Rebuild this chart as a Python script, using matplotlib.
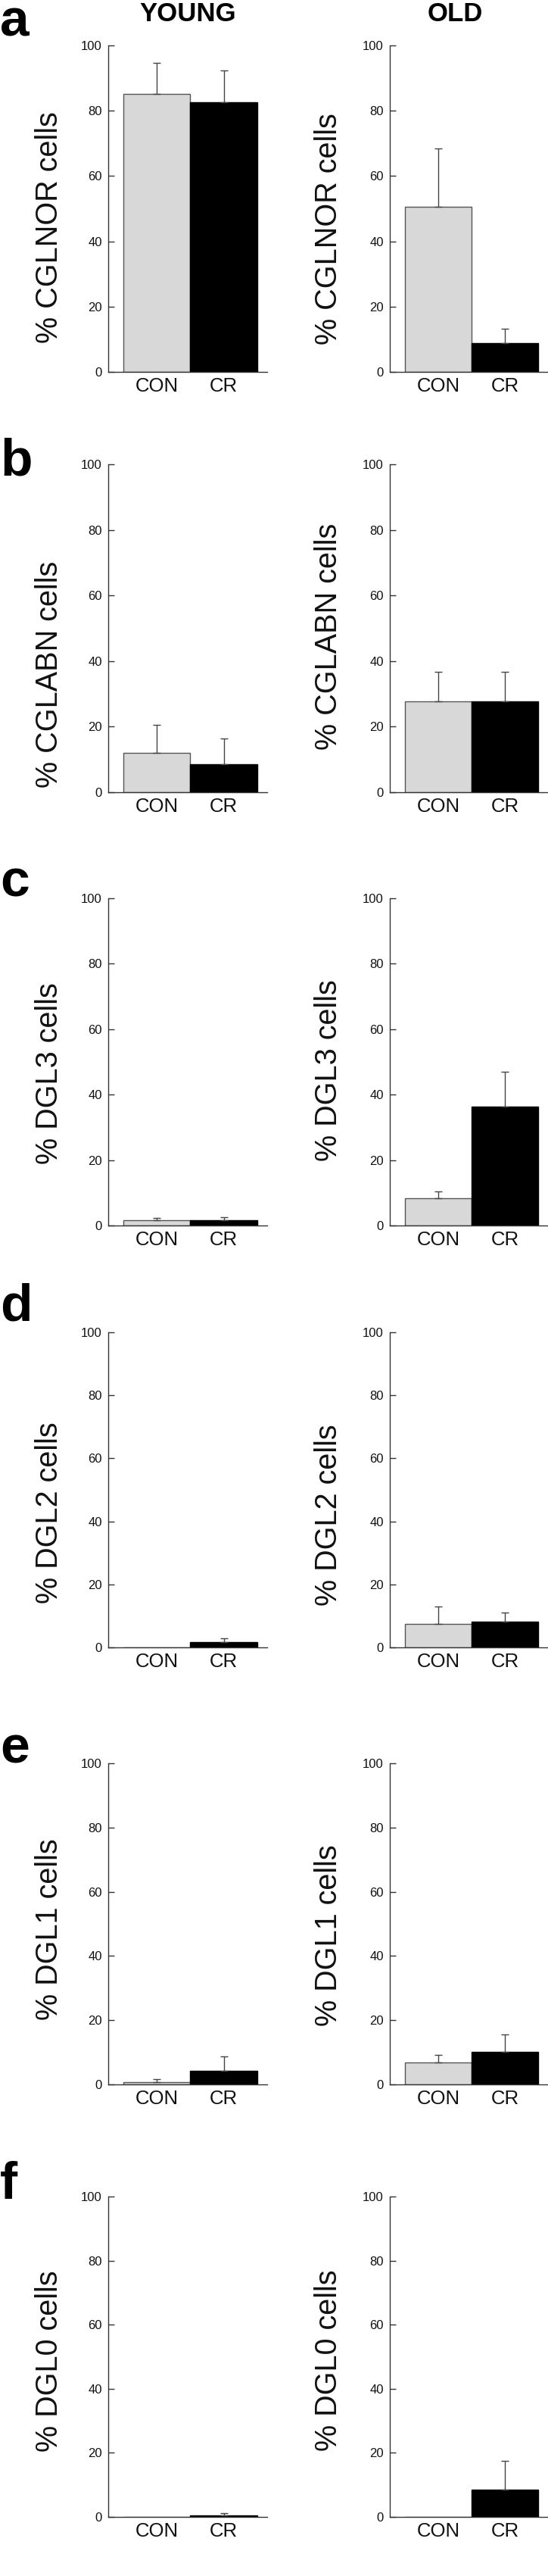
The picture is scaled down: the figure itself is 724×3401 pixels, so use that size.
import matplotlib
matplotlib.use("Agg")
import matplotlib.pyplot as plt

plt.rcParams['font.family'] = ['Liberation Sans', 'DejaVu Sans']

# data (% of cells)
cell_types = ["CGLNOR", "CGLABN", "DGL3", "DGL2", "DGL1", "DGL0"]
panel_letters = ["a", "b", "c", "d", "e", "f"]
groups = ["CON", "CR"]

young_con = [85.1, 12.1, 1.6, 0.0, 0.7, 0.0]
young_con_err = [9.5, 8.4, 0.8, 0.0, 1.0, 0.0]
young_cr = [82.7, 8.6, 1.6, 1.6, 4.3, 0.5]
young_cr_err = [9.6, 7.9, 1.0, 1.4, 4.4, 0.6]

old_con = [50.5, 27.6, 8.4, 7.5, 6.8, 0.0]
old_con_err = [18.0, 9.2, 2.1, 5.5, 2.5, 0.0]
old_cr = [8.8, 27.6, 36.4, 8.2, 10.2, 8.6]
old_cr_err = [4.4, 9.2, 10.6, 2.9, 5.4, 8.9]

# layout in pixels
W, H = 724, 3401
rows_y = [(60, 491), (613, 1046), (1186, 1618), (1759, 2175), (2328, 2752), (2900, 3323)]
cols_x = [(143, 353), (515, 723)]
xlims = [(-0.726, 1.647), (-0.727, 1.636)]
label_x = [65, 434]
label_yfrac = [(0.443, 0.438), (0.36, 0.476), (0.465, 0.475),
               (0.428, 0.42), (0.483, 0.465), (0.487, 0.488)]
letter_base = [47, 627, 1183, 1743, 2327, 2903]

fig = plt.figure(figsize=(W / 100, H / 100), dpi=100)

con_color = "#d8d8d8"
cr_color = "#000000"
line_color = "#333333"

for i, ctype in enumerate(cell_types):
    ytop, ybot = rows_y[i]
    for j in range(2):
        x0, x1 = cols_x[j]
        ax = fig.add_axes([x0 / W, 1 - ybot / H, (x1 - x0) / W, (ybot - ytop) / H])
        if j == 0:
            means = [young_con[i], young_cr[i]]
            errs = [young_con_err[i], young_cr_err[i]]
        else:
            means = [old_con[i], old_cr[i]]
            errs = [old_con_err[i], old_cr_err[i]]

        ax.bar([0, 1], means, width=1.0, color=[con_color, cr_color],
               edgecolor=["#555555", "#000000"], linewidth=1.0, zorder=2)
        for k in range(2):
            if errs[k] > 0:
                ax.errorbar(k, means[k], yerr=[[0], [errs[k]]], fmt="none",
                            ecolor="#444444", elinewidth=1.0, capsize=3.6,
                            capthick=1.0, zorder=3)

        ax.set_xlim(*xlims[j])
        ax.set_ylim(0, 100)
        ax.set_yticks(range(0, 101, 20))
        ax.set_xticks([0, 1])
        ax.set_xticklabels(groups)
        ax.tick_params(axis="y", direction="in", length=6, width=1.0, pad=6,
                       labelsize=12, color=line_color, labelcolor="#111111")
        ax.tick_params(axis="x", length=0, pad=5, labelsize=18.5, labelcolor="#111111")
        for s in ["top", "right"]:
            ax.spines[s].set_visible(False)
        for s in ["left", "bottom"]:
            ax.spines[s].set_color(line_color)
            ax.spines[s].set_linewidth(1.0)
        ax.set_facecolor("none")

        lx = (label_x[j] - x0) / (x1 - x0)
        ax.text(lx, label_yfrac[i][j], "% " + ctype + " cells", transform=ax.transAxes,
                rotation=90, ha="center", va="center", fontsize=28.5, color="#111111")

    fig.text(0.0, 1 - letter_base[i] / H, panel_letters[i], fontsize=50,
             fontweight="bold", ha="left", va="baseline")

fig.text(248 / W, 1 - 18 / H, "YOUNG", fontsize=25, fontweight="bold",
         ha="center", va="center")
fig.text(601 / W, 1 - 18 / H, "OLD", fontsize=25, fontweight="bold",
         ha="center", va="center")

fig.savefig("out.png", dpi=100)
